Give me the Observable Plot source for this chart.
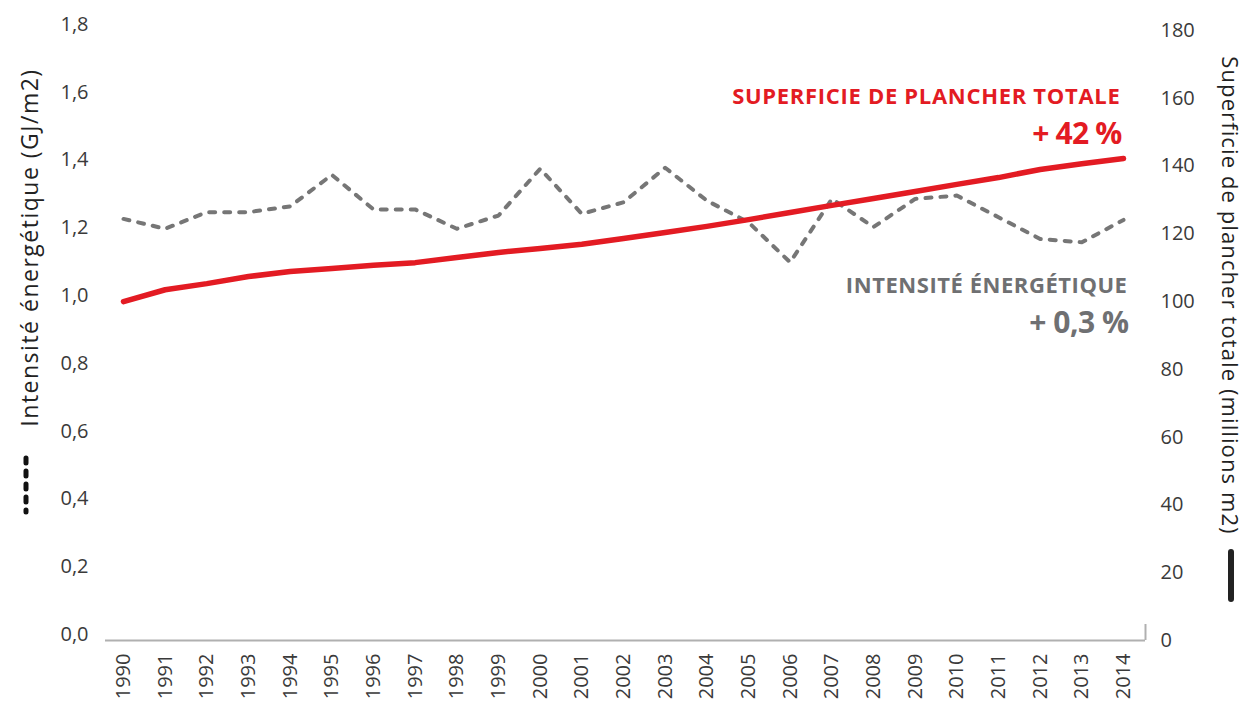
<!DOCTYPE html>
<html>
<head>
<meta charset="utf-8">
<script src="https://cdn.jsdelivr.net/npm/d3@7"></script>
<script src="https://cdn.jsdelivr.net/npm/@observablehq/plot@0.6"></script>
<style>
  html, body { margin: 0; padding: 0; background: #fff; }
  #chart svg { display: block; overflow: visible; }
  .t-left text { letter-spacing: 1.5px; }
  .t-right text { letter-spacing: 1.1px; }
  .a-floor text { letter-spacing: 0.7px; }
  .a-int text { letter-spacing: 0.55px; }
  .c-floor text { letter-spacing: -0.8px; }
  .c-int text { letter-spacing: -0.5px; }
</style>
</head>
<body>
<div id="chart"></div>
<script>
// ---- data ----
const years = [1990, 1991, 1992, 1993, 1994, 1995, 1996, 1997, 1998, 1999, 2000, 2001, 2002,
               2003, 2004, 2005, 2006, 2007, 2008, 2009, 2010, 2011, 2012, 2013, 2014];
// Superficie de plancher totale (millions m2) – right axis
const floorArea = [100.0, 103.5, 105.3, 107.4, 108.9, 109.8, 110.7, 111.5, 113.0, 114.5, 115.7, 116.9, 118.6,
                   120.4, 122.2, 124.2, 126.3, 128.4, 130.4, 132.5, 134.6, 136.6, 139.0, 140.7, 142.2];
// Intensité énergétique (GJ/m2) – left axis
const intensity = [1.244, 1.215, 1.264, 1.264, 1.281, 1.374, 1.272, 1.272, 1.215, 1.254, 1.392, 1.259, 1.293,
                   1.395, 1.298, 1.234, 1.116, 1.303, 1.220, 1.303, 1.313, 1.249, 1.185, 1.175, 1.241];
const leftTicks = [0, 0.2, 0.4, 0.6, 0.8, 1.0, 1.2, 1.4, 1.6, 1.8];
const rightTicks = [0, 20, 40, 60, 80, 100, 120, 140, 160, 180];
const leftTitle = "Intensité énergétique (GJ/m2)";
const rightTitle = "Superficie de plancher totale (millions m2)";
const floorLabel = "SUPERFICIE DE PLANCHER TOTALE";
const floorChange = "+ 42 %";
const intensityLabel = "INTENSITÉ ÉNERGÉTIQUE";
const intensityChange = "+ 0,3 %";

const RED = "#e31b23";
const GREY = "#6f7072";
const TXT = "#3a3a3a";
const FONT = "'Open Sans', 'Noto Sans', sans-serif";

const floorData = years.map((y, i) => ({year: y, v: floorArea[i]}));
const intData = years.map((y, i) => ({year: y, v: intensity[i]}));
const ratio = 100; // left axis value * 100 = right axis units

const W = 1247, H = 708;

const chart = Plot.plot({
  width: W,
  height: H,
  marginTop: 30,
  marginBottom: 68,
  marginLeft: 105,
  marginRight: 102,
  style: {fontFamily: FONT, background: "transparent"},
  x: {domain: [1990, 2014], range: [123, 1123]},
  y: {domain: [0, 180], range: [640, 30]},
  marks: [
    // baseline and right end tick
    Plot.ruleY([0], {stroke: "#b0b0b0", strokeWidth: 2}),
    Plot.ruleX([2014], {dx: 22, stroke: "#b0b0b0", strokeWidth: 2, insetTop: 594}),
    // x axis
    Plot.axisX(years, {
      anchor: "bottom", tickSize: 0, tickPadding: 13, tickRotate: -90,
      tickFormat: d => String(d), fontSize: 20, fill: TXT, label: null
    }),
    // left axis (intensity)
    Plot.axisY(leftTicks.map(d => d * ratio), {
      anchor: "left", tickSize: 0, tickPadding: 17, dy: -6,
      tickFormat: d => (d / ratio).toFixed(1).replace(".", ","),
      fontSize: 20, fill: TXT, label: null
    }),
    // right axis (floor area)
    Plot.axisY(rightTicks, {
      anchor: "right", tickSize: 0, tickPadding: 15,
      tickFormat: d => String(d), fontSize: 20, fill: TXT, label: null
    }),
    // axis titles
    Plot.text([leftTitle], {
      className: "t-left",
      frameAnchor: "left", text: d => d, rotate: -90, dx: -75, dy: -88,
      fontSize: 23, fill: "#222", textAnchor: "middle"
    }),
    Plot.text([rightTitle], {
      className: "t-right",
      frameAnchor: "right", text: d => d, rotate: 90, dx: 84, dy: -40,
      fontSize: 22, fill: "#222", textAnchor: "middle"
    }),
    // lines
    Plot.line(intData, {
      x: "year", y: d => d.v * ratio, stroke: "#767676", strokeWidth: 4,
      strokeDasharray: "6 9", strokeLinecap: "round", strokeLinejoin: "round"
    }),
    Plot.line(floorData, {
      x: "year", y: "v", stroke: RED, strokeWidth: 5.5,
      strokeLinecap: "round", strokeLinejoin: "round"
    }),
    // annotations
    Plot.text([floorLabel], {
      className: "a-floor",
      frameAnchor: "top-right", text: d => d, textAnchor: "end", lineAnchor: "bottom",
      dx: -25, dy: 73, fontSize: 22, fontWeight: 700, fill: RED
    }),
    Plot.text([floorChange], {
      className: "c-floor",
      frameAnchor: "top-right", text: d => d, textAnchor: "end", lineAnchor: "bottom",
      dx: -24, dy: 113, fontSize: 30, fontWeight: 700, fill: RED
    }),
    Plot.text([intensityLabel], {
      className: "a-int",
      frameAnchor: "top-right", text: d => d, textAnchor: "end", lineAnchor: "bottom",
      dx: -18, dy: 262, fontSize: 22, fontWeight: 700, fill: GREY
    }),
    Plot.text([intensityChange], {
      className: "c-int",
      frameAnchor: "top-right", text: d => d, textAnchor: "end", lineAnchor: "bottom",
      dx: -17, dy: 302, fontSize: 30, fontWeight: 700, fill: GREY
    })
  ]
});

document.getElementById("chart").appendChild(chart);

// line-style keys next to the axis titles
const svg = d3.select(chart);
svg.append("line")
  .attr("x1", 26).attr("x2", 26).attr("y1", 458).attr("y2", 512)
  .attr("stroke", "#111").attr("stroke-width", 5)
  .attr("stroke-dasharray", "5 8").attr("stroke-linecap", "round");
svg.append("line")
  .attr("x1", 1231).attr("x2", 1231).attr("y1", 552).attr("y2", 599)
  .attr("stroke", "#222").attr("stroke-width", 6).attr("stroke-linecap", "round");
</script>
</body>
</html>
